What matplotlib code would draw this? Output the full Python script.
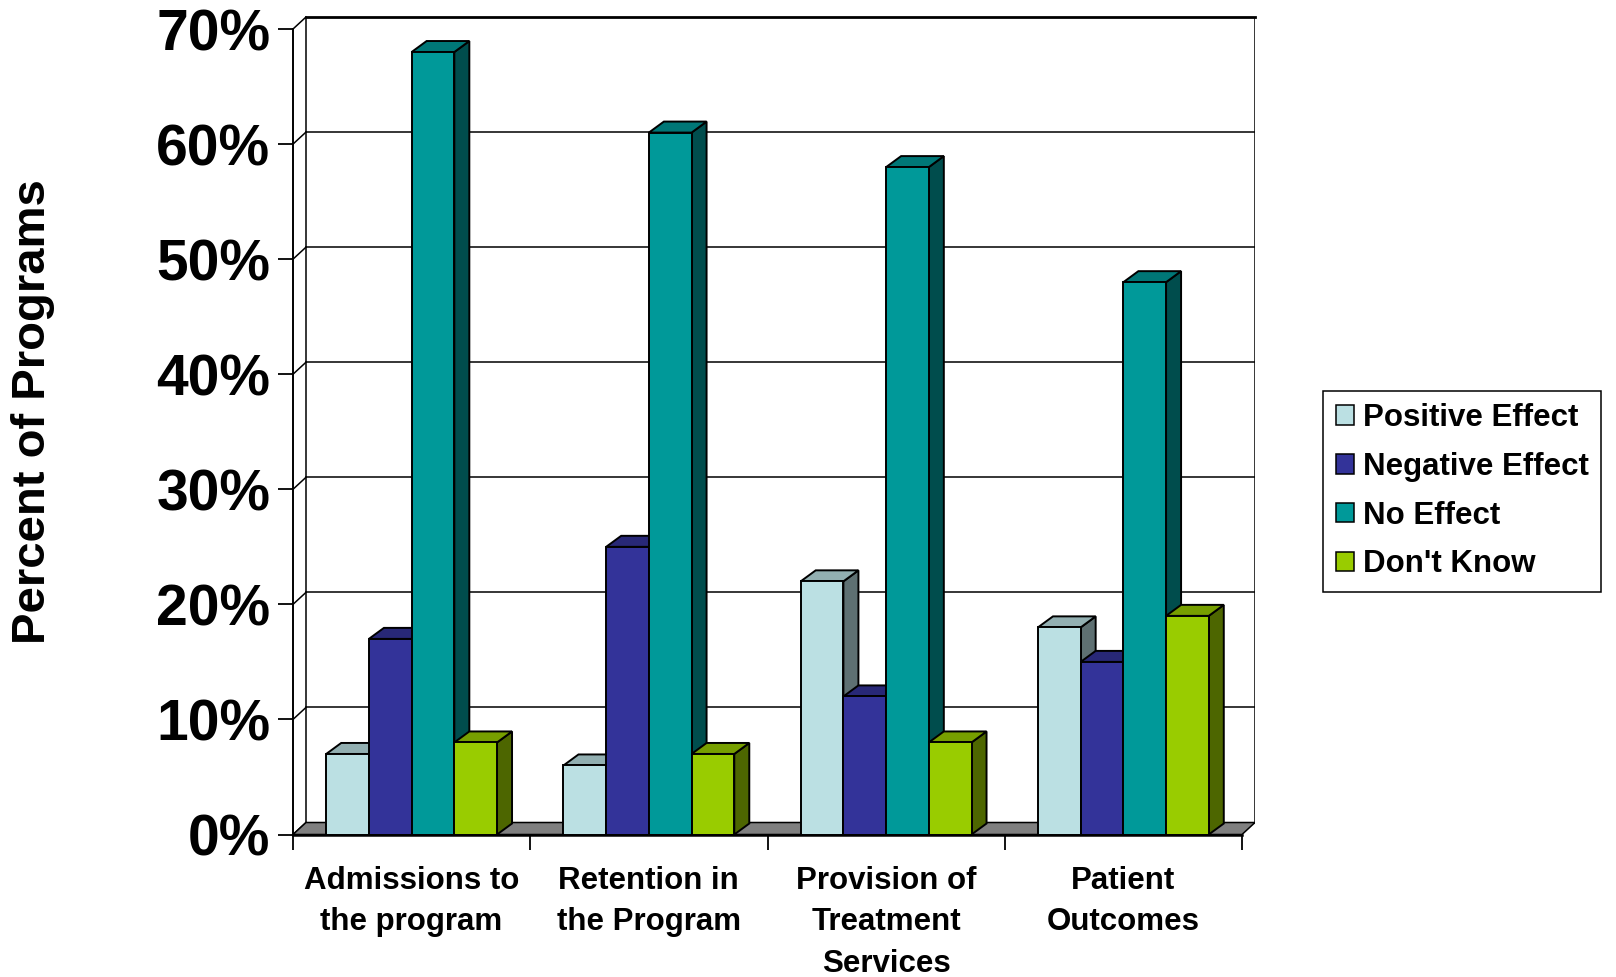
import matplotlib
matplotlib.use("Agg")
import matplotlib.pyplot as plt
from matplotlib.patches import Polygon, Rectangle, Patch
from matplotlib.colors import to_rgb

plt.rcParams['font.family'] = ['Liberation Sans', 'DejaVu Sans']
plt.rcParams['font.weight'] = 'bold'

# ---- data -------------------------------------------------------------
categories = ["Admissions to\nthe program", "Retention in\nthe Program",
              "Provision of\nTreatment\nServices", "Patient\nOutcomes"]
series_names = ["Positive Effect", "Negative Effect", "No Effect", "Don't Know"]
positive = [7, 6, 22, 18]
negative = [17, 25, 12, 15]
no_effect = [68, 61, 58, 48]
dont_know = [8, 7, 8, 19]
series_colors = ["#BBE0E3", "#333399", "#009999", "#99CC00"]
y_ticks = [0, 10, 20, 30, 40, 50, 60, 70]
y_tick_labels = ["0%", "10%", "20%", "30%", "40%", "50%", "60%", "70%"]
y_title = "Percent of Programs"

series_values = [positive, negative, no_effect, dont_know]

# ---- layout (pixels) ----------------------------------------------------
W, H = 1616, 977
fig = plt.figure(figsize=(W / 100, H / 100), dpi=100)

front_left_px = 293.0
front_base_px = 834.5
cat_px = 237.25
pct_px = 11.507
wall_dx_px, wall_dy_px = 13.0, 12.0
bar_dx_px, bar_dy_px = 15.0, 11.0

DX = wall_dx_px / cat_px
DY = wall_dy_px / pct_px
BDX = bar_dx_px / cat_px
BDY = bar_dy_px / pct_px
n_cat = len(categories)
y_max = y_ticks[-1]

x_span = n_cat + DX
y_span = y_max + DY
ax = fig.add_axes([front_left_px / W, 1 - front_base_px / H,
                   x_span * cat_px / W, y_span * pct_px / H])
ax.set_xlim(0, x_span)
ax.set_ylim(0, y_span)
ax.patch.set_visible(False)

edge = "black"

# back wall with gridlines
ax.add_patch(Rectangle((DX, DY), n_cat, y_max, facecolor="white",
                       edgecolor=edge, linewidth=1.1, zorder=1))
ax.plot([DX, n_cat + DX], [y_max + DY] * 2, color=edge, lw=2.0,
        zorder=1.5, clip_on=False, solid_capstyle="projecting")
for v in y_ticks[1:-1]:
    ax.plot([DX, n_cat + DX], [v + DY] * 2, color=edge, lw=1.1, zorder=1.2)
# side wall edges
for v in y_ticks:
    ax.plot([0, DX], [v, v + DY], color=edge, lw=1.1, zorder=1.2, clip_on=False)

# floor
ax.add_patch(Polygon([(0, 0), (n_cat, 0), (n_cat + DX, DY), (DX, DY)],
                     closed=True, facecolor="#808080", edgecolor=edge,
                     linewidth=1.1, zorder=2))

# bars
bar_w = 0.18
group_pad = (1 - bar_w * len(series_values)) / 2


def shade(color, f):
    r, g, b = to_rgb(color)
    return (r * f, g * f, b * f)


for j, (vals, color) in enumerate(zip(series_values, series_colors)):
    z = 3 + j
    for i, v in enumerate(vals):
        x = i + group_pad + j * bar_w
        ax.add_patch(Polygon([(x + bar_w, 0), (x + bar_w + BDX, BDY),
                              (x + bar_w + BDX, v + BDY), (x + bar_w, v)],
                             closed=True, facecolor=shade(color, 0.5),
                             edgecolor=edge, linewidth=1.4, zorder=z))
        ax.add_patch(Polygon([(x, v), (x + bar_w, v), (x + bar_w + BDX, v + BDY),
                              (x + BDX, v + BDY)],
                             closed=True, facecolor=shade(color, 0.78),
                             edgecolor=edge, linewidth=1.4, zorder=z))
        ax.add_patch(Rectangle((x, 0), bar_w, v, facecolor=color,
                               edgecolor=edge, linewidth=1.4, zorder=z + 0.5))

# axes lines and ticks
ax.spines["top"].set_visible(False)
ax.spines["right"].set_visible(False)
ax.spines["left"].set_bounds(0, y_max)
ax.spines["left"].set_linewidth(1.4)
ax.spines["bottom"].set_bounds(0, n_cat)
ax.spines["bottom"].set_linewidth(1.8)
ax.spines["bottom"].set_zorder(20)

ax.set_yticks(y_ticks, y_tick_labels)
ax.tick_params(axis="y", direction="out", length=10.8, width=1.3, pad=5.5,
               labelsize=41, colors="black")
ax.set_xticks(range(n_cat + 1), [""] * (n_cat + 1))
ax.tick_params(axis="x", which="major", direction="out", length=10.8, width=1.3)
ax.set_xticks([i + 0.5 for i in range(n_cat)], categories, minor=True)
ax.tick_params(axis="x", which="minor", length=0, pad=23.0, labelsize=22.5)
for lbl in ax.get_xticklabels(minor=True):
    lbl.set_linespacing(1.48)

fig.text(33.5 / W, 1 - 412 / H, y_title, rotation=90, fontsize=34,
         ha="center", va="center")

handles = [Patch(facecolor=c, edgecolor=edge, linewidth=1.1, label=n)
           for n, c in zip(series_names, series_colors)]
leg = fig.legend(handles=handles, loc="upper left",
                 bbox_to_anchor=(1323.3 / W, 1 - 390.7 / H), fontsize=22.5,
                 frameon=True, fancybox=False, edgecolor=edge, framealpha=1,
                 borderpad=0.4, handlelength=0.58, handleheight=0.58,
                 handletextpad=0.28, labelspacing=0.6, borderaxespad=0)
leg.get_frame().set_linewidth(1.1)

fig.savefig("out.png", dpi=100)
